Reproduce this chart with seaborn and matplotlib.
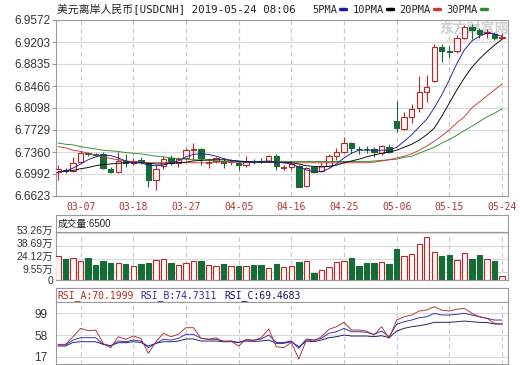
import numpy as np
import pandas as pd
import matplotlib
matplotlib.use('Agg')
import matplotlib.pyplot as plt
from matplotlib.lines import Line2D
from matplotlib.transforms import ScaledTranslation
import seaborn as sns


#%% DATA

dates = pd.bdate_range('2019-03-04', '2019-05-24').strftime('%m-%d').tolist()

opens = [6.7020, 6.7059, 6.7047, 6.7187, 6.7343, 6.7327, 6.7327, 6.7070, 6.7031, 6.7214,
         6.7184, 6.7218, 6.7171, 6.6899, 6.7121, 6.7254, 6.7181, 6.7254, 6.7390, 6.7405,
         6.7176, 6.7214, 6.7214, 6.7189, 6.7181, 6.7143, 6.7204, 6.7216, 6.7214, 6.7293,
         6.7097, 6.7101, 6.7125, 6.6790, 6.7104, 6.7047, 6.7125, 6.7293, 6.7365, 6.7516,
         6.7416, 6.7416, 6.7411, 6.7349, 6.7449, 6.7880, 6.7754, 6.7952, 6.8092, 6.8371,
         6.8550, 6.9125, 6.9048, 6.9053, 6.9275, 6.9460, 6.9404, 6.9349, 6.9332, 6.9270]
highs = [6.7143, 6.7092, 6.7282, 6.7377, 6.7360, 6.7343, 6.7365, 6.7115, 6.7352, 6.7327,
         6.7260, 6.7276, 6.7199, 6.7143, 6.7293, 6.7310, 6.7282, 6.7422, 6.7511, 6.7422,
         6.7243, 6.7282, 6.7254, 6.7238, 6.7214, 6.7293, 6.7235, 6.7254, 6.7310, 6.7327,
         6.7143, 6.7193, 6.7143, 6.7104, 6.7125, 6.7199, 6.7327, 6.7422, 6.7617, 6.7533,
         6.7461, 6.7461, 6.7449, 6.7478, 6.7494, 6.8223, 6.8036, 6.8159, 6.8639, 6.8650,
         6.9165, 6.9165, 6.9141, 6.9321, 6.9488, 6.9500, 6.9443, 6.9421, 6.9376, 6.9349]
lows = [6.6891, 6.7009, 6.7031, 6.7176, 6.7293, 6.7293, 6.7070, 6.7014, 6.7014, 6.7115,
        6.7143, 6.7159, 6.6781, 6.6723, 6.7070, 6.7143, 6.7115, 6.7226, 6.7226, 6.7143,
        6.7092, 6.7171, 6.7087, 6.7143, 6.7059, 6.7115, 6.7159, 6.7181, 6.7198, 6.7059,
        6.7059, 6.7059, 6.6769, 6.6779, 6.7014, 6.7031, 6.7104, 6.7226, 6.7338, 6.7338,
        6.7327, 6.7338, 6.7271, 6.7310, 6.7349, 6.7700, 6.7729, 6.7841, 6.8025, 6.8193,
        6.8538, 6.8873, 6.8940, 6.9014, 6.9254, 6.9254, 6.9265, 6.9265, 6.9237, 6.9254]
closes = [6.7076, 6.7042, 6.7176, 6.7349, 6.7335, 6.7318, 6.7087, 6.7031, 6.7214, 6.7171,
          6.7209, 6.7201, 6.6891, 6.7070, 6.7251, 6.7179, 6.7238, 6.7394, 6.7405, 6.7264,
          6.7198, 6.7254, 6.7171, 6.7201, 6.7148, 6.7198, 6.7193, 6.7206, 6.7293, 6.7125,
          6.7109, 6.7167, 6.6781, 6.7087, 6.7031, 6.7125, 6.7293, 6.7365, 6.7516, 6.7422,
          6.7405, 6.7405, 6.7365, 6.7461, 6.7365, 6.7757, 6.7952, 6.8081, 6.8361, 6.8454,
          6.9125, 6.9053, 6.9036, 6.9275, 6.9460, 6.9404, 6.9332, 6.9376, 6.9265, 6.9279]

ma5 = [6.703, 6.704, 6.709, 6.716, 6.723, 6.728, 6.731, 6.730, 6.726, 6.721,
       6.718, 6.718, 6.714, 6.713, 6.714, 6.718, 6.721, 6.728, 6.732, 6.733,
       6.732, 6.729, 6.725, 6.722, 6.720, 6.719, 6.719, 6.720, 6.721, 6.719,
       6.718, 6.716, 6.711, 6.706, 6.703, 6.703, 6.708, 6.716, 6.726, 6.734,
       6.739, 6.739, 6.739, 6.739, 6.739, 6.744, 6.754, 6.765, 6.778, 6.791,
       6.810, 6.832, 6.857, 6.884, 6.907, 6.922, 6.930, 6.935, 6.934, 6.930]
ma10 = [6.703, 6.704, 6.705, 6.708, 6.710, 6.713, 6.715, 6.716, 6.717, 6.718,
        6.718, 6.718, 6.717, 6.716, 6.716, 6.717, 6.718, 6.719, 6.721, 6.722,
        6.723, 6.723, 6.723, 6.722, 6.721, 6.720, 6.719, 6.719, 6.719, 6.719,
        6.718, 6.718, 6.716, 6.713, 6.712, 6.711, 6.712, 6.714, 6.718, 6.721,
        6.724, 6.728, 6.731, 6.734, 6.736, 6.739, 6.744, 6.749, 6.756, 6.765,
        6.776, 6.796, 6.818, 6.840, 6.860, 6.878, 6.892, 6.904, 6.915, 6.925]
ma20 = [6.745, 6.743, 6.739, 6.737, 6.734, 6.731, 6.728, 6.725, 6.723, 6.721,
        6.720, 6.719, 6.718, 6.718, 6.718, 6.718, 6.718, 6.718, 6.718, 6.718,
        6.718, 6.719, 6.719, 6.719, 6.719, 6.719, 6.719, 6.719, 6.719, 6.719,
        6.719, 6.718, 6.718, 6.718, 6.718, 6.718, 6.718, 6.718, 6.718, 6.718,
        6.718, 6.718, 6.719, 6.721, 6.723, 6.726, 6.729, 6.733, 6.739, 6.746,
        6.754, 6.763, 6.773, 6.785, 6.795, 6.810, 6.820, 6.830, 6.840, 6.850]
ma30 = [6.751, 6.749, 6.748, 6.745, 6.743, 6.741, 6.739, 6.738, 6.737, 6.735,
        6.734, 6.733, 6.731, 6.729, 6.728, 6.726, 6.725, 6.724, 6.723, 6.723,
        6.722, 6.721, 6.720, 6.720, 6.720, 6.720, 6.720, 6.720, 6.720, 6.720,
        6.720, 6.720, 6.720, 6.720, 6.720, 6.720, 6.720, 6.720, 6.720, 6.720,
        6.720, 6.720, 6.721, 6.722, 6.723, 6.724, 6.727, 6.729, 6.734, 6.739,
        6.744, 6.751, 6.757, 6.764, 6.772, 6.779, 6.787, 6.795, 6.801, 6.808]

# volume in 万
volume = [27.2, 23.8, 24.6, 21.9, 25.3, 17.0, 21.5, 18.9, 19.6, 17.8,
          15.9, 17.8, 19.6, 22.7, 23.5, 19.6, 17.0, 19.6, 21.5, 21.5,
          17.0, 15.9, 18.1, 15.9, 15.9, 15.9, 17.0, 17.0, 13.3, 18.1,
          15.1, 15.9, 20.1, 21.5, 8.3, 11.3, 14.4, 20.7, 21.5, 25.3,
          16.2, 19.6, 18.9, 20.1, 18.1, 35.1, 27.2, 29.5, 40.8, 48.4,
          31.4, 27.2, 28.3, 22.7, 30.3, 23.8, 28.3, 23.8, 21.5, 5.0]

rsi_a = [40.4, 40.4, 54.8, 70.6, 66.1, 67.4, 42.3, 34.0, 54.8, 49.9,
         56.1, 51.7, 23.4, 45.3, 61.2, 54.8, 59.3, 71.8, 71.8, 51.7,
         49.9, 52.7, 45.3, 46.6, 37.2, 49.9, 48.0, 52.9, 69.3, 35.9,
         34.0, 44.0, 12.6, 48.5, 46.6, 54.8, 68.7, 73.7, 82.0, 67.4,
         67.4, 65.5, 58.0, 73.7, 51.7, 86.3, 92.6, 95.8, 103.3, 105.2,
         111.5, 105.2, 103.3, 106.6, 108.5, 99.0, 92.6, 89.5, 80.1, 78.8]
rsi_b = [39.1, 39.1, 48.5, 52.9, 52.9, 52.9, 40.4, 37.2, 46.6, 45.3,
         48.5, 46.6, 34.0, 42.3, 49.9, 48.5, 51.7, 59.3, 59.3, 51.7,
         49.9, 49.9, 46.6, 46.6, 44.0, 48.5, 48.0, 50.5, 58.0, 44.0,
         44.0, 46.6, 32.8, 50.5, 48.5, 51.7, 61.2, 64.2, 70.6, 64.2,
         64.2, 63.1, 59.3, 65.5, 54.8, 78.2, 83.1, 86.3, 90.7, 92.6,
         99.0, 95.8, 95.8, 97.1, 99.0, 95.8, 92.6, 89.5, 86.3, 86.3]
rsi_c = [37.2, 37.2, 44.0, 45.3, 45.3, 45.3, 40.4, 37.8, 43.4, 43.4,
         45.3, 44.0, 37.2, 42.3, 45.3, 45.3, 46.6, 50.5, 50.5, 46.6,
         46.6, 46.6, 45.3, 45.3, 44.0, 46.6, 46.0, 46.6, 48.5, 42.3,
         42.3, 45.3, 35.9, 46.6, 45.3, 48.5, 52.9, 54.8, 58.0, 56.1,
         56.1, 56.1, 54.8, 56.7, 52.9, 65.5, 70.6, 73.7, 75.6, 78.2,
         82.0, 82.0, 82.0, 83.1, 84.4, 83.1, 82.0, 81.6, 78.8, 78.8]

price_ticks = [6.6623, 6.6992, 6.7360, 6.7729, 6.8098, 6.8466, 6.8835, 6.9203, 6.9572]
vol_ticks = [0, 9.55, 24.12, 38.69, 53.26]
vol_labels = ['0', '9.55万', '24.12万', '38.69万', '53.26万']
rsi_ticks = [17, 58, 99]
rsi_header = ['RSI_A:70.1999', 'RSI_B:74.7311', 'RSI_C:69.4683']


#%% STYLE

sns.set_theme(style='white')
plt.rcParams['font.family'] = ['DejaVu Sans', 'Noto Sans CJK SC']
MONO = ['DejaVu Sans Mono', 'Noto Sans CJK SC']
NUM = ['Liberation Sans', 'Noto Sans CJK SC']

RED = '#b22a2a'
PINK = '#fff4f4'
GREEN = '#176b36'
GRID = '#d9d9d9'
SPINE = '#9a9a9a'
ma_colors = ['#1c1c9c', '#000000', '#c83a32', '#2e8b2e']
rsi_colors = ['#b22a2a', '#2a2ab0', '#12126e']

W, H = 520, 365
fig = plt.figure(figsize=(5.2, 3.65), dpi=100)


def box(x0, y0, x1, y1):
    # pixel box measured from top-left -> figure axes
    return fig.add_axes([x0 / W, 1 - y1 / H, (x1 - x0) / W, (y1 - y0) / H])


ax = box(56, 20, 508, 196)
ax_vh = box(56, 215, 508, 232)
ax_v = box(56, 232, 508, 280)
ax_rh = box(56, 288, 508, 302)
ax_r = box(56, 302, 508, 364)

idx = np.arange(len(dates))
o, c = np.array(opens), np.array(closes)
up = c >= o
edge = np.where(up, RED, GREEN)
face = np.where(up, PINK, GREEN)
xlim = (-0.27, 59.8)
date_pos = idx[3::7]

for a in [ax, ax_vh, ax_v, ax_rh, ax_r]:
    for s in a.spines.values():
        s.set_color(SPINE)
        s.set_linewidth(0.8)
    a.set_xlim(xlim)

for a in [ax_vh, ax_rh]:
    a.set_xticks([])
    a.set_yticks([])


#%% PRICE PANEL

ax.vlines(idx, lows, highs, colors=edge, lw=0.8, zorder=2)
body = np.maximum(np.abs(c - o), 0.0004)
ax.bar(idx, body, bottom=np.minimum(o, c), width=0.72, color=face,
       edgecolor=edge, linewidth=0.8, zorder=3)

ma_df = pd.DataFrame({'idx': idx, '5PMA': ma5, '10PMA': ma10,
                      '20PMA': ma20, '30PMA': ma30})
ma_long = ma_df.melt(id_vars='idx', var_name='ma', value_name='price')
sns.lineplot(data=ma_long, x='idx', y='price', hue='ma',
             hue_order=['30PMA', '20PMA', '10PMA', '5PMA'],
             palette=dict(zip(['5PMA', '10PMA', '20PMA', '30PMA'], ma_colors)),
             linewidth=0.65, legend=False, ax=ax, zorder=4)

ax.set_ylim(price_ticks[0], price_ticks[-1])
ax.set_yticks(price_ticks)
ax.set_yticklabels(['%.4f' % t for t in price_ticks], family=NUM, fontsize=8.5,
                   color='#333333')
ax.set_xticks(date_pos)
ax.set_xticklabels([dates[i] for i in date_pos], family=MONO, fontsize=7,
                   color='#b03030')
ax.tick_params(axis='y', length=3, width=0.8, color=SPINE, pad=1, left=True)
ax.tick_params(axis='x', length=0, pad=4)
ax.set_xlabel('')
ax.set_ylabel('')
ax.grid(axis='y', color=GRID, lw=0.8, ls='-')
ax.grid(axis='x', color='#c8c8c8', lw=0.8, ls=(0, (4, 3)))
ax.set_axisbelow(True)

ax.text(0.925, 0.95, '东方财富网', transform=ax.transAxes, ha='center', va='center',
        family=['Noto Sans CJK SC'], fontsize=10, fontweight='bold',
        color='#cfcfcf', zorder=1)
ax.text(0.925, 0.88, 'eastmoney.com', transform=ax.transAxes, ha='center',
        va='center', fontsize=5, color='#d6d6d6', zorder=1)

fig.text(57 / W, 1 - 10 / H, '美元离岸人民币[USDCNH] 2019-05-24 08:06',
         va='center', ha='left', family=MONO, fontsize=7.8, color='#222222')
handles = [Line2D([], [], color=col, lw=2.5) for col in ma_colors]
fig.legend(handles, ['5PMA', '10PMA', '20PMA', '30PMA'], loc='center left',
           bbox_to_anchor=(312 / W, 1 - 10 / H), ncol=4, frameon=False,
           markerfirst=False, handlelength=0.6, handletextpad=0.3,
           columnspacing=0.6, borderpad=0, borderaxespad=0,
           prop={'family': 'DejaVu Sans Mono', 'size': 7.5})


#%% VOLUME PANEL

ax_vh.text(0.004, 0.45, '成交量:6500', transform=ax_vh.transAxes, va='center',
           family=NUM, fontsize=7, color='#222222')

ax_v.bar(idx, volume, width=0.72, color=face, edgecolor=edge, linewidth=0.8,
         zorder=3)
ax_v.set_ylim(0, 54.4)
ax_v.set_yticks(vol_ticks)
ax_v.set_yticklabels(vol_labels, family=NUM, fontsize=7.5, color='#333333')
ax_v.set_xticks(date_pos)
ax_v.set_xticklabels([])
ax_v.tick_params(axis='y', length=0, pad=2)
ax_v.tick_params(axis='x', length=0)
ax_v.grid(axis='y', color=GRID, lw=0.8, ls='-')
ax_v.grid(axis='x', color='#c8c8c8', lw=0.8, ls=(0, (4, 3)))
ax_v.set_axisbelow(True)
# the labels sit a little above their gridlines in the original
lift = ScaledTranslation(0, 3 / 100, fig.dpi_scale_trans)
for lab in ax_v.get_yticklabels()[1:]:
    lab.set_transform(lab.get_transform() + lift)


#%% RSI PANEL

for k, (txt, col) in enumerate(zip(rsi_header, rsi_colors)):
    ax_rh.text(0.003 + k * 0.1847, 0.45, txt, transform=ax_rh.transAxes,
               va='center', family=MONO, fontsize=7, color=col)

rsi_df = pd.DataFrame({'idx': idx, 'RSI_A': rsi_a, 'RSI_B': rsi_b, 'RSI_C': rsi_c})
rsi_long = rsi_df.melt(id_vars='idx', var_name='rsi', value_name='value')
sns.lineplot(data=rsi_long, x='idx', y='value', hue='rsi',
             hue_order=['RSI_C', 'RSI_B', 'RSI_A'],
             palette=dict(zip(['RSI_A', 'RSI_B', 'RSI_C'], rsi_colors)),
             linewidth=0.65, legend=False, ax=ax_r, zorder=3)
ax_r.set_ylim(3.2, 120.4)
ax_r.set_yticks(rsi_ticks)
ax_r.set_yticklabels([str(t) for t in rsi_ticks], family=NUM, fontsize=8.5,
                     color='#333333')
ax_r.set_xticks(date_pos)
ax_r.set_xticklabels([])
ax_r.set_xlabel('')
ax_r.set_ylabel('')
ax_r.tick_params(axis='y', length=0, pad=6)
ax_r.tick_params(axis='x', length=0)
ax_r.grid(axis='y', color=GRID, lw=0.8, ls='-')
ax_r.grid(axis='x', color='#c8c8c8', lw=0.8, ls=(0, (4, 3)))
ax_r.set_axisbelow(True)

fig.savefig('out.png', dpi=100)
plt.close(fig)
